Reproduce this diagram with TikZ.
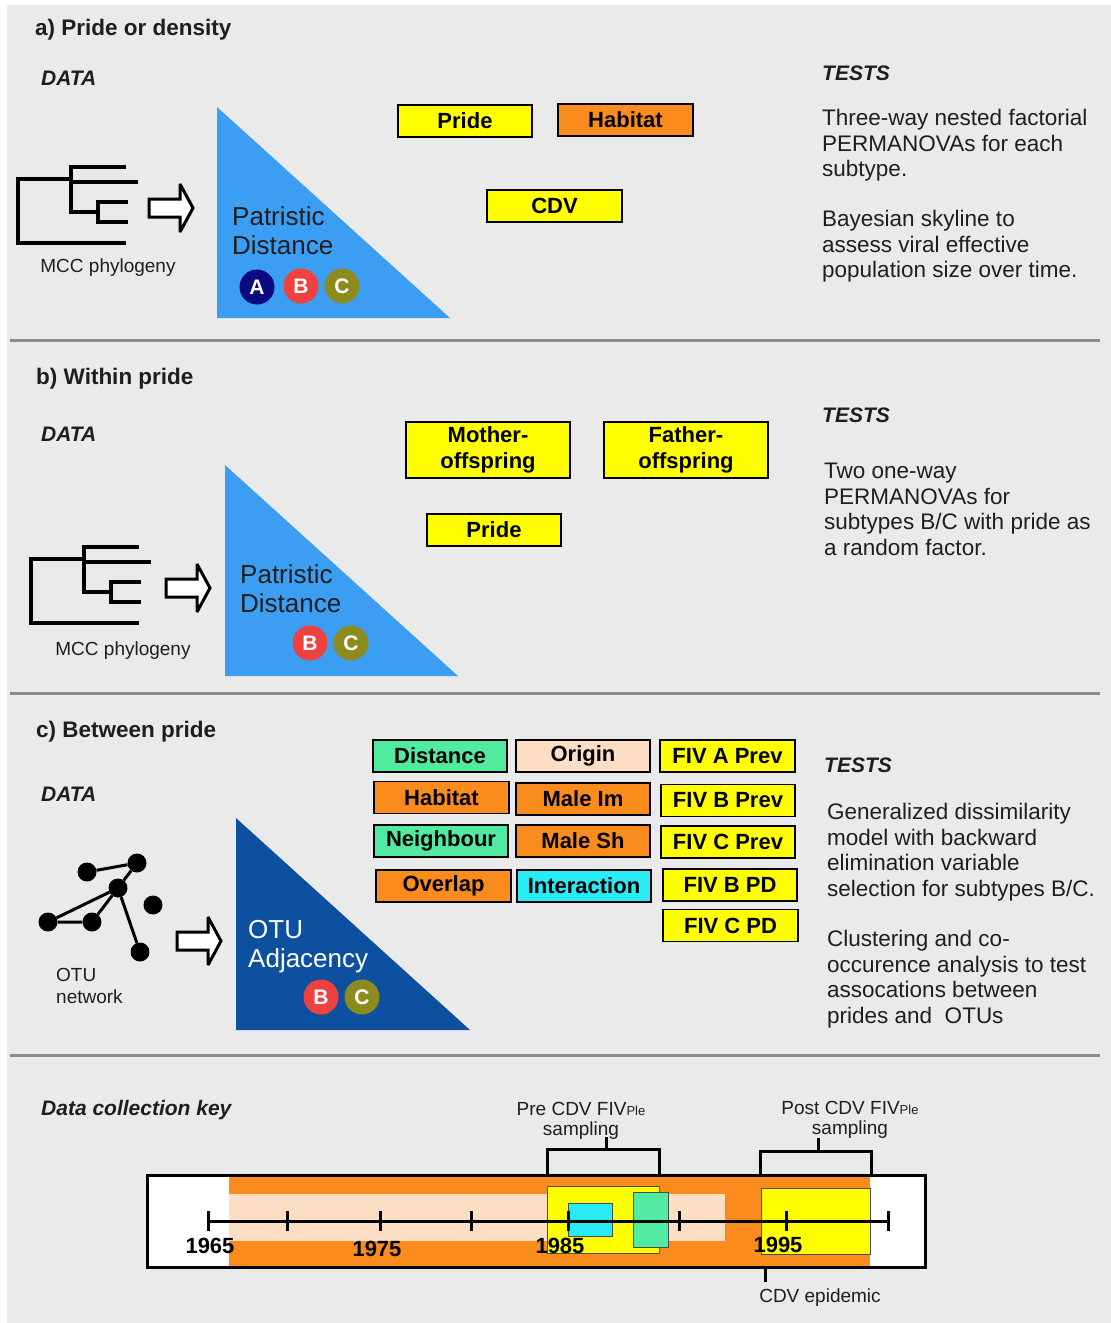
\documentclass[tikz,border=0pt]{standalone}
\usepackage{fontspec}
\setmainfont{Liberation Sans}
\definecolor{bgc}{RGB}{234,234,234}
\definecolor{sepc}{RGB}{140,140,140}
\definecolor{trilight}{RGB}{60,158,243}
\definecolor{tridark}{RGB}{14,80,160}
\definecolor{cnavy}{RGB}{10,10,130}
\definecolor{cred}{RGB}{240,65,65}
\definecolor{colive}{RGB}{140,140,30}
\definecolor{byellow}{RGB}{255,255,0}
\definecolor{borange}{RGB}{250,140,30}
\definecolor{bmint}{RGB}{80,235,160}
\definecolor{bpeach}{RGB}{252,222,196}
\definecolor{bcyan}{RGB}{40,235,245}
\definecolor{txt}{RGB}{30,30,30}
\tikzset{
  title/.style={font=\fontsize{22.5}{26}\selectfont\bfseries, anchor=west, inner sep=0pt, text=txt},
  datalbl/.style={font=\fontsize{21}{25}\selectfont\bfseries\itshape, anchor=west, inner sep=0pt, text=txt},
  teststxt/.style={font=\fontsize{22.5}{25.5}\selectfont, align=left, anchor=north west, inner sep=0pt, text=txt},
  bx/.style={draw=black, line width=1.5pt, font=\fontsize{22}{24}\selectfont\bfseries, inner sep=0pt, minimum height=32pt, minimum width=134pt, align=center},
  circ/.style={circle, minimum size=35pt, inner sep=0pt, text=white, font=\fontsize{21}{21}\selectfont\bfseries},
  smalltxt/.style={font=\fontsize{19}{22}\selectfont, inner sep=0pt, text=txt},
  trilabel/.style={font=\fontsize{26}{29.5}\selectfont, align=left, anchor=north west, inner sep=0pt},
  yearlbl/.style={font=\fontsize{22}{24}\selectfont\bfseries, inner sep=0pt},
  otunode/.style={circle, fill=black, minimum size=19pt, inner sep=0pt},
  sepline/.style={draw=sepc, line width=3pt},
  thick3/.style={line width=3pt},
  keybox/.style={draw=black!70, line width=0.8pt},
  phylo/.pic={
    \begin{scope}[line width=3.5pt, line join=miter]
    \draw (108,0) -- (53,0) -- (53,45) -- (80,45);
    \draw (53,15) -- (120,15);
    \draw (53,12) -- (0,12) -- (0,76) -- (108,76);
    \draw (110,35) -- (80,35) -- (80,55) -- (110,55);
    \end{scope}
  },
  blockarrow/.pic={
    \draw[line width=3pt, fill=white, line join=miter, miter limit=4]
      (-22,-9) -- (9,-9) -- (9,-24) -- (22,0) -- (9,24) -- (9,9) -- (-22,9) -- cycle;
  }
}
\begin{document}
\begin{tikzpicture}[x=1pt,y=-1pt]
\useasboundingbox (0,0) rectangle (1111,1323);
\fill[white] (0,0) rectangle (1111,1323);
\fill[bgc] (7,5) rectangle (1111,1323);

% separators
\draw[sepline] (10,340) -- (1100,340);
\draw[sepline] (10,693) -- (1100,693);
\draw[sepline] (10,1055) -- (1100,1055);

% ================= a) =================
\node[title] (ta) at (35,30) {a) Pride or density};
\node[datalbl] (da) at (41,78) {DATA};
\node[datalbl] (tsa) at (822,73) {TESTS};
\node[teststxt] (testa1) at (822,109) {Three-way nested factorial\\PERMANOVAs for each\\subtype.};
\node[teststxt] (testa2) at (822,210) {Bayesian skyline to\\assess viral effective\\population size over time.};

\pic at (18,167) {phylo};
\pic at (171,208) {blockarrow};
\node[smalltxt] (mcca) at (108,268) {MCC phylogeny};

\fill[trilight] (217,107) -- (217,318) -- (450,318) -- cycle;
\node[trilabel, text=txt] (pda) at (232,206) {Patristic\\Distance};
\node[circ, fill=cnavy] (ca) at (257,287) {A};
\node[circ, fill=cred] (cb) at (301,286) {B};
\node[circ, fill=colive] (cc) at (342,286) {C};

\node[bx, fill=byellow] (pridea) at (465,121) {Pride};
\node[bx, fill=borange, minimum width=135pt] (habitata) at (625.5,120) {Habitat};
\node[bx, fill=byellow, minimum width=135pt] (cdva) at (554.5,206) {CDV};

% ================= b) =================
\node[title] (tb) at (36,379) {b) Within pride};
\node[datalbl] (db) at (41,434) {DATA};
\node[datalbl] (tsb) at (822,415) {TESTS};
\node[teststxt] (testb) at (824,463) {Two one-way\\PERMANOVAs for\\subtypes B/C with pride as\\a random factor.};

\pic at (31,547) {phylo};
\pic at (188,588) {blockarrow};
\node[smalltxt] (mccb) at (123,651) {MCC phylogeny};

\fill[trilight] (225,465) -- (225,676) -- (458,676) -- cycle;
\node[trilabel, text=txt] (pdb) at (240,564) {Patristic\\Distance};
\node[circ, fill=cred] (cbb) at (310,643) {B};
\node[circ, fill=colive] (ccb) at (351,643) {C};

\node[bx, fill=byellow, minimum width=164pt, minimum height=56pt, font=\fontsize{22}{26}\selectfont\bfseries] (mother) at (488,450) {Mother-\\offspring};
\node[bx, fill=byellow, minimum width=164pt, minimum height=56pt, font=\fontsize{22}{26}\selectfont\bfseries] (father) at (686,450) {Father-\\offspring};
\node[bx, fill=byellow] (prideb) at (494,530) {Pride};

% ================= c) =================
\node[title] (tc) at (36,732) {c) Between pride};
\node[datalbl] (dc) at (41,794) {DATA};
\node[datalbl] (tsc) at (824,765) {TESTS};
\node[teststxt] (testc1) at (827,803) {Generalized dissimilarity\\model with backward\\elimination variable\\selection for subtypes B/C.};
\node[teststxt] (testc2) at (827,930) {Clustering and co-\\occurence analysis to test\\assocations between\\prides and\ \ OTUs};

% OTU network
\node[otunode] (o1) at (87,872) {};
\node[otunode] (o2) at (137,863) {};
\node[otunode] (o3) at (118,888) {};
\node[otunode] (o4) at (153,905) {};
\node[otunode] (o5) at (48,922) {};
\node[otunode] (o6) at (92,922) {};
\node[otunode] (o7) at (140,952) {};
\draw[line width=3pt] (o1) -- (o2) (o2) -- (o3) (o3) -- (o5) (o3) -- (o6) (o5) -- (o6) (o3) -- (o7);
\node[smalltxt, align=left, anchor=north west] (otulbl) at (56,968) {OTU\\network};
\pic at (199,941) {blockarrow};

\fill[tridark] (236,818) -- (236,1030) -- (470,1030) -- cycle;
\node[trilabel, text=white] (adj) at (248,920) {OTU\\Adjacency};
\node[circ, fill=cred] (cbc) at (321,997) {B};
\node[circ, fill=colive] (ccc) at (362,997) {C};

\node[bx, fill=bmint] (distance) at (440,756) {Distance};
\node[bx, fill=bpeach] (origin) at (583,756) {Origin};
\node[bx, fill=byellow, minimum width=135pt] (fivap) at (727.5,756) {FIV A Prev};
\node[bx, fill=borange, minimum width=135pt] (habitatc) at (441.5,797.5) {Habitat};
\node[bx, fill=borange] (maleim) at (583,799) {Male Im};
\node[bx, fill=byellow] (fivbp) at (728,800.5) {FIV B Prev};
\node[bx, fill=bmint] (neigh) at (441,841) {Neighbour};
\node[bx, fill=borange] (malesh) at (583,841) {Male Sh};
\node[bx, fill=byellow] (fivcp) at (728,842) {FIV C Prev};
\node[bx, fill=borange, minimum width=135pt] (overlap) at (443.5,886) {Overlap};
\node[bx, fill=bcyan] (interact) at (584,886) {Interaction};
\node[bx, fill=byellow] (fivbpd) at (730,885) {FIV B PD};
\node[bx, fill=byellow, minimum width=135pt] (fivcpd) at (730.5,925.5) {FIV C PD};

% ================= key =================
\node[datalbl] (dck) at (41,1110) {Data collection key};

\fill[white] (147,1175) rectangle (925,1267);
\fill[borange] (229,1175) rectangle (870,1267);
\fill[bpeach] (229,1194) rectangle (725,1241);
\filldraw[fill=byellow, keybox] (547,1186) rectangle (659,1253);
\filldraw[fill=bcyan, keybox] (568,1203) rectangle (612,1236);
\filldraw[fill=bmint, keybox] (633,1192) rectangle (668,1247);
\filldraw[fill=byellow, keybox] (761,1188) rectangle (870,1254);
\draw[thick3] (147,1175) rectangle (925,1267);

% axis
\coordinate (ax0) at (208,1221);
\coordinate (ax1) at (888,1221);
\draw[thick3] (ax0) -- (ax1);
\foreach \tx in {208,287,380,471,568,679,786,888}
  \draw[thick3] (\tx,1211) -- (\tx,1231);

\node[yearlbl] (y65) at (210,1246) {1965};
\node[yearlbl] (y75) at (377,1249) {1975};
\node[yearlbl] (y85) at (560,1246) {1985};
\node[yearlbl] (y95) at (778,1245) {1995};

% brackets
\draw[thick3, line join=miter] (547,1175) -- (547,1149) -- (659,1149) -- (659,1175);
\draw[thick3] (606,1149) -- (606,1137);
\draw[thick3, line join=miter] (760,1175) -- (760,1151) -- (871,1151) -- (871,1175);
\draw[thick3] (818,1151) -- (818,1138);

\node[smalltxt, align=center, font=\fontsize{19}{20}\selectfont] (pre) at (581,1121) {Pre CDV FIV{\fontsize{13}{13}\selectfont Ple}\\sampling};
\node[smalltxt, align=center, font=\fontsize{19}{20}\selectfont] (post) at (850,1120) {Post CDV FIV{\fontsize{13}{13}\selectfont Ple}\\sampling};

\draw[thick3] (765,1267) -- (765,1282);
\node[smalltxt] (cdvep) at (820,1298) {CDV epidemic};
\end{tikzpicture}
\end{document}
